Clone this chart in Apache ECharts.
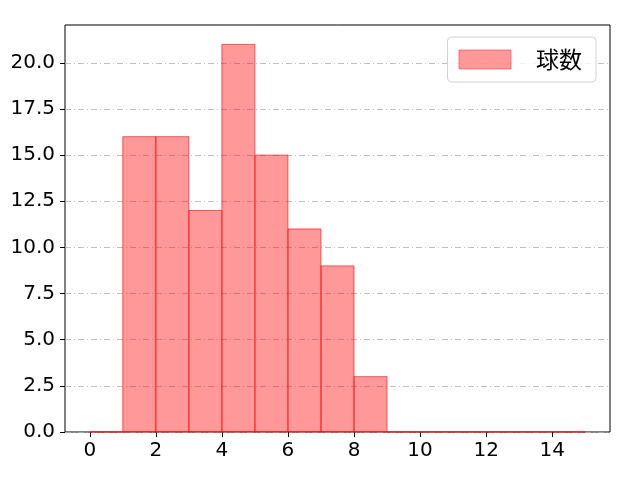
<!DOCTYPE html>
<html><head><meta charset="utf-8">
<script src="https://cdn.jsdelivr.net/npm/echarts@6/dist/echarts.min.js"></script>
<style>html,body{margin:0;padding:0;background:#fff}#c{width:640px;height:480px}</style>
</head><body><div id="c"></div>
<script>
const binStarts = [0,1,2,3,4,5,6,7,8,9,10,11,12,13,14];
const counts = [0,16,16,12,21,15,11,9,3,0,0,0,0,0,0];
const xTicks = [0,2,4,6,8,10,12,14];
const yTicks = [0,2.5,5,7.5,10,12.5,15,17.5,20];
const seriesName = '球数';

const data = binStarts.map((s,i)=>[s, s+1, counts[i]]);
const font = '"DejaVu Sans","Noto Sans CJK JP",sans-serif';
const chart = echarts.init(document.getElementById('c'));
chart.setOption({
  animation:false,
  grid:{left:65,right:30,top:25,bottom:48,show:true,borderColor:'#000',borderWidth:1,backgroundColor:'#fff'},
  xAxis:{type:'value',min:-0.75,max:15.75,
    axisLine:{show:false,onZero:false},
    splitLine:{show:false},
    axisTick:{show:true,customValues:xTicks,length:5,lineStyle:{color:'#000'}},
    axisLabel:{customValues:xTicks,color:'#000',fontSize:20,fontFamily:font,margin:9}},
  yAxis:{type:'value',min:0,max:22.05,
    axisLine:{show:false,onZero:false},
    axisTick:{show:true,customValues:yTicks,length:5,lineStyle:{color:'#000'}},
    axisLabel:{customValues:yTicks,color:'#000',fontSize:20,fontFamily:font,margin:10,formatter:v=>v.toFixed(1)},
    splitLine:{show:true,lineStyle:{color:'#b0b0b0',width:0.8,type:[6,3,1,3]}}},
  legend:{right:44,top:37,itemWidth:52,itemHeight:19,itemGap:10,padding:[11,14,11,11],
    borderColor:'#d0d0d0',borderWidth:1,borderRadius:4,backgroundColor:'rgba(255,255,255,0.8)',
    textStyle:{fontSize:23,fontFamily:'"Noto Sans CJK JP",sans-serif',color:'#000',padding:[0,0,0,20]},
    data:[{name:seriesName,icon:'rect',itemStyle:{color:'rgba(255,0,0,0.4)',borderColor:'rgba(255,60,60,0.6)',borderWidth:1}}]},
  series:[{type:'custom',name:seriesName,data:data,
    encode:{x:[0,1],y:2},
    itemStyle:{color:'rgba(255,0,0,0.4)'},
    renderItem:function(params,api){
      const p0=api.coord([api.value(0),api.value(2)]);
      const p1=api.coord([api.value(1),0]);
      return {type:'rect',shape:{x:p0[0],y:p0[1],width:p1[0]-p0[0],height:p1[1]-p0[1]},
        style:{fill:'rgba(255,0,0,0.4)',stroke:'rgba(255,0,0,0.6)',lineWidth:1}};
    }}]
});
</script></body></html>
